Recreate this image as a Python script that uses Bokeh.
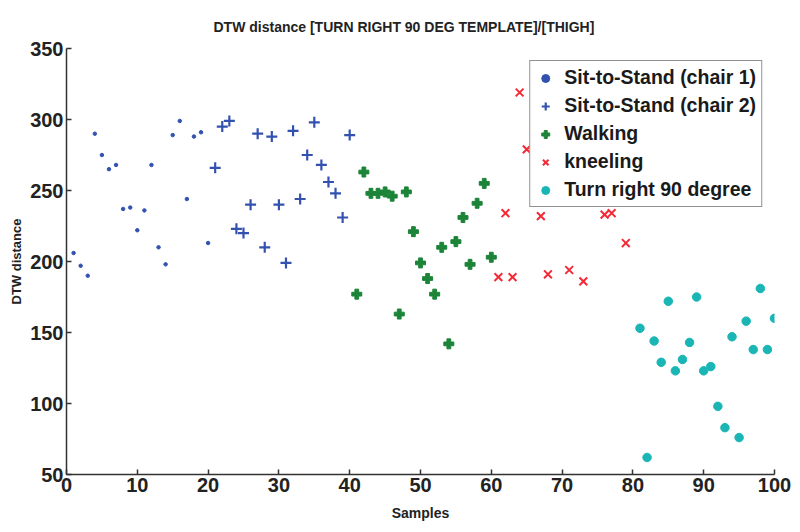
from bokeh.plotting import figure
from bokeh.models import Range1d, FixedTicker, Legend, LegendItem
from bokeh.embed import file_html
from bokeh.resources import INLINE

# ---- data ----
chair1_x = list(range(1, 21))
chair1_y = [206, 197, 190, 290, 275, 265, 268, 237, 238, 222,
            236, 268, 210, 198, 289, 299, 244, 288, 291, 213]

chair2_x = list(range(21, 41))
chair2_y = [266, 295, 299, 223, 220, 240, 290, 210, 288, 240,
            199, 292, 244, 275, 298, 268, 256, 248, 231, 289]

walk_x = list(range(41, 61))
walk_y = [177, 263, 248, 248, 249, 246, 163, 249, 221, 199,
          188, 177, 210, 142, 214, 231, 198, 241, 255, 203]

kneel_x = [61, 62, 63, 64, 65, 67, 68, 71, 73, 76, 77, 79]
kneel_y = [189, 234, 189, 319, 279, 232, 191, 194, 186, 233, 234, 213]

turn_x = list(range(81, 101))
turn_y = [153, 62, 144, 129, 172, 123, 131, 143, 175, 123,
          126, 98, 83, 147, 76, 158, 138, 181, 138, 160]

x_ticks = list(range(0, 101, 10))
y_ticks = list(range(50, 351, 50))

labels = ["Sit-to-Stand (chair 1)", "Sit-to-Stand (chair 2)", "Walking",
          "kneeling", "Turn right 90 degree"]

NARROW = "'Liberation Sans Narrow', 'Arial Narrow', 'Liberation Sans', sans-serif"
SANS = "'Liberation Sans', Arial, sans-serif"

p = figure(width=800, height=532, output_backend="svg", toolbar_location=None,
           x_range=Range1d(0, 100), y_range=Range1d(50, 350),
           min_border_left=66, min_border_right=26, min_border_top=48,
           min_border_bottom=58,
           title="DTW distance [TURN RIGHT 90 DEG TEMPLATE]/[THIGH]")

p.title.align = "left"
p.title.offset = 147
p.title.text_font = NARROW
p.title.text_font_size = "14px"
p.title.text_font_style = "bold"
p.title.text_color = "#222222"
p.title.standoff = 28

p.outline_line_color = None
p.xgrid.visible = False
p.ygrid.visible = False
p.background_fill_color = "white"
p.border_fill_color = "white"

for ax in (p.xaxis[0], p.yaxis[0]):
    ax.axis_line_color = "#333333"
    ax.axis_line_width = 1.5
    ax.major_tick_line_color = "#333333"
    ax.major_tick_line_width = 1.5
    ax.major_tick_in = 5
    ax.major_tick_out = 0
    ax.minor_tick_line_color = None
    ax.major_label_text_font = NARROW
    ax.major_label_text_font_style = "bold"
    ax.major_label_text_font_size = "20px"
    ax.major_label_text_color = "#222222"
    ax.major_label_standoff = 3
    ax.axis_label_text_font = NARROW
    ax.axis_label_text_font_style = "bold"
    ax.axis_label_text_color = "#222222"

p.xaxis[0].ticker = FixedTicker(ticks=x_ticks)
p.yaxis[0].ticker = FixedTicker(ticks=y_ticks)
p.xaxis[0].axis_label = "Samples"
p.yaxis[0].axis_label = "DTW distance"
p.xaxis[0].axis_label_text_font_size = "14px"
p.yaxis[0].axis_label_text_font_size = "13px"
p.xaxis[0].axis_label_standoff = 10
p.yaxis[0].axis_label_standoff = 3

blue = "#3352b0"
green = "#1c8438"
red = "#f42a36"
cyan = "#1ab6b6"

r1 = p.scatter(chair1_x, chair1_y, marker="circle", size=3.5, color=blue)
r2 = p.scatter(chair2_x, chair2_y, marker="cross", size=11, line_color=blue,
               line_width=2.2)
r3 = p.scatter(walk_x, walk_y, marker="plus", size=10, color=green)
r4 = p.scatter(kneel_x, kneel_y, marker="x", size=11, line_color=red,
               line_width=2)
r5 = p.scatter(turn_x, turn_y, marker="circle", size=8.5, color=cyan)

legend = Legend(items=[LegendItem(label=l, renderers=[r]) for l, r in
                       zip(labels, [r1, r2, r3, r4, r5])],
                location="top_right")
legend.margin = 12
legend.padding = 5
legend.glyph_width = 20
legend.glyph_height = 20
legend.label_height = 20
legend.label_standoff = 9
legend.spacing = 5
legend.label_text_font = SANS
legend.label_text_font_style = "bold"
legend.label_text_font_size = "19.5px"
legend.label_text_color = "#1a1a1a"
legend.border_line_color = "#222222"
legend.border_line_width = 1.5
legend.background_fill_color = "white"
legend.background_fill_alpha = 1.0
p.add_layout(legend, "center")

open("out.html", "w").write(file_html(p, INLINE))
